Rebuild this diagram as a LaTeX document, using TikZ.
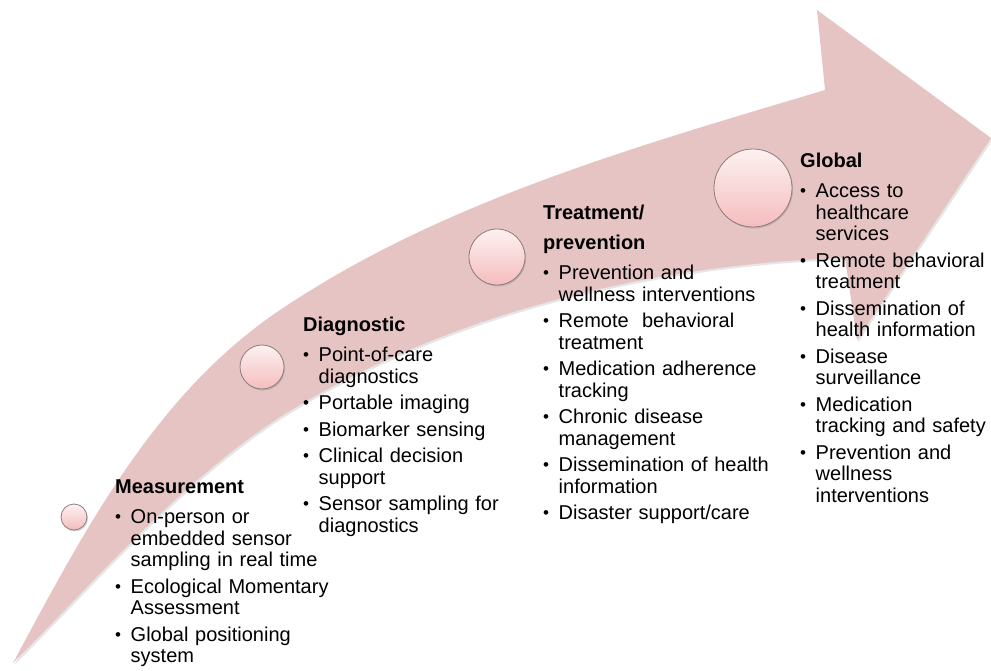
\documentclass[tikz,border=0pt]{standalone}
\usepackage{fontspec}
\setmainfont{Liberation Sans}
\usetikzlibrary{shadows}
\definecolor{arrowpink}{HTML}{E6C4C4}
\definecolor{ctop}{HTML}{FDF1F1}
\definecolor{cbot}{HTML}{F5BDBE}
\definecolor{cborder}{HTML}{8E7C7C}
\newcommand\hd[1]{\setlength{\parskip}{5pt}\noindent{\bfseries #1}\par\vspace{3.5pt}}
\newcommand\bul[1]{\noindent\hangindent=15.5pt\hangafter=1\makebox[15.5pt][l]{\raisebox{1pt}{\fontsize{17}{17}\selectfont •}}#1\par}
\tikzset{
  stage/.style={circle, draw=cborder, line width=0.8pt, top color=ctop, bottom color=cbot, inner sep=0pt,
    drop shadow={shadow xshift=1pt, shadow yshift=-1.5pt, opacity=0.35}},
  block/.style={anchor=north west, inner sep=0pt, font=\fontsize{20}{21.5}\selectfont}
}
\begin{document}
\begin{tikzpicture}[x=1pt,y=-1pt]
\useasboundingbox (0,0) rectangle (991,671);
% arrow
\fill[arrowpink, drop shadow={shadow xshift=1.5pt, shadow yshift=-2pt, opacity=0.2}]
  (13,663) .. controls (84,531) and (155,394) .. (280,310)
  .. controls (442,201) and (638,146) .. (825,90)
  -- (817,10) -- (991,138) -- (857,340) -- (845,258)
  .. controls (650,264) and (444,314) .. (280,417)
  .. controls (179,483) and (98,578) .. (13,663)
  -- cycle;
% circles
\node[stage, minimum size=26pt] (c0) at (74,517) {};
\node[stage, minimum size=44pt] (c1) at (262,367) {};
\node[stage, minimum size=56pt] (c2) at (497,257) {};
\node[stage, minimum size=78pt] (c3) at (753,188) {};
% text blocks
\node[block, text width=235pt] (meas) at (115,480) {%
\hd{Measurement}
\bul{On-person or\newline embedded sensor\newline sampling in real time}
\bul{Ecological Momentary\newline Assessment}
\bul{Global positioning\newline system}};
\node[block, text width=215pt] (diag) at (303,317) {%
\hd{Diagnostic}
\bul{Point-of-care\newline diagnostics}
\bul{Portable imaging}
\bul{Biomarker sensing}
\bul{Clinical decision\newline support}
\bul{Sensor sampling for\newline diagnostics}};
\node[block, text width=245pt] (treat) at (543,205) {%
\hd{Treatment/\\[8.5pt]prevention}
\bul{Prevention and\newline wellness interventions}
\bul{Remote\ \ behavioral\newline treatment}
\bul{Medication adherence\newline tracking}
\bul{Chronic disease\newline management}
\bul{Dissemination of health\newline information}
\bul{Disaster support/care}};
\node[block, text width=195pt] (glob) at (800,153) {%
\hd{Global}
\bul{Access to\newline healthcare\newline services}
\bul{Remote behavioral\newline treatment}
\bul{Dissemination of\newline health information}
\bul{Disease\newline surveillance}
\bul{Medication\newline tracking and safety}
\bul{Prevention and\newline wellness\newline interventions}};
\end{tikzpicture}
\end{document}
